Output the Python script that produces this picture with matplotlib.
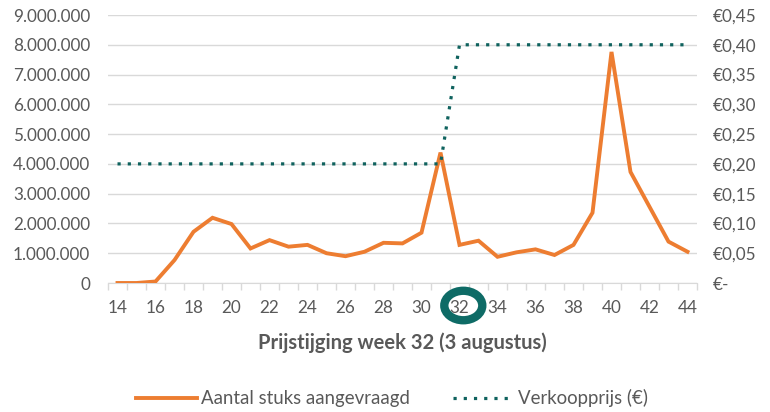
import matplotlib
matplotlib.use("Agg")
import matplotlib.pyplot as plt
from matplotlib.patches import Ellipse
from matplotlib.lines import Line2D
from matplotlib.ticker import FuncFormatter
import matplotlib.transforms as mtransforms

weeks = list(range(14, 45))
demand = [0, 0, 50000, 770000, 1720000, 2190000, 1980000, 1160000, 1440000, 1220000,
          1280000, 1000000, 900000, 1050000, 1350000, 1330000, 1690000, 4380000,
          1280000, 1420000, 880000, 1030000, 1130000, 940000, 1280000, 2360000,
          7760000, 3730000, 2560000, 1390000, 1050000]
price = [0.20] * 18 + [0.40] * 13
tick_weeks = list(range(14, 45, 2))
highlight_week = 32

ORANGE = "#ED7D31"
TEAL = "#0F625E"
GRAY = "#595959"
GRID = "#D9D9D9"

plt.rcParams['font.family'] = ['Lato', 'DejaVu Sans']

fig = plt.figure(figsize=(7.7, 4.12), dpi=100)
ax = fig.add_axes([108/770, 1-283/412, 589/770, 268/412])
ax2 = ax.twinx()

ax.plot(weeks, demand, color=ORANGE, lw=2.8, solid_joinstyle='miter', zorder=3)
ax2.plot(weeks, price, color=TEAL, lw=2.3, linestyle=(0, (1, 2.2)), zorder=4)

ax.set_xlim(13.5, 44.5)
ax.set_ylim(0, 9000000)
ax2.set_ylim(0, 0.45)
ax.set_yticks(range(0, 9000001, 1000000))
ax2.set_yticks([i * 0.05 for i in range(10)])

def fmt_left(v, pos):
    return f"{int(round(v)):,}".replace(",", ".")

def fmt_right(v, pos):
    if abs(v) < 1e-9:
        return "€-"
    return "€" + f"{v:.2f}".replace(".", ",")

ax.yaxis.set_major_formatter(FuncFormatter(fmt_left))
ax2.yaxis.set_major_formatter(FuncFormatter(fmt_right))

ax.set_xticks(tick_weeks)
ax.set_xticks([w + 0.5 for w in range(13, 45)], minor=True)
ax.tick_params(axis='x', which='major', length=0, pad=12, labelsize=12.3, labelcolor=GRAY)
ax.tick_params(axis='x', which='minor', length=5, color=GRID, width=1)
ax.tick_params(axis='y', length=0, pad=13, labelsize=12.3, labelcolor=GRAY)
ax2.tick_params(axis='y', length=0, pad=11.5, labelsize=12.3, labelcolor=GRAY)

ax.grid(axis='y', color=GRID, lw=1)
ax.set_axisbelow(True)
for a in (ax, ax2):
    for s in ('left', 'right', 'top', 'bottom'):
        a.spines[s].set_visible(False)
ax.spines['bottom'].set_visible(True)
ax.spines['bottom'].set_color(GRID)

ax.set_xlabel("Prijstijging week 32 (3 augustus)", fontsize=14.5, fontweight='bold',
              color=GRAY, labelpad=12)

trans = mtransforms.blended_transform_factory(ax.transData, ax.transAxes)
ring = Ellipse((highlight_week + 0.2, -0.084), width=2.0, height=0.11, transform=trans,
               fill=False, edgecolor="#0E6B66", lw=6, clip_on=False, zorder=5)
ax.add_patch(ring)

handles = [Line2D([], [], color=ORANGE, lw=2.8),
           Line2D([], [], color=TEAL, lw=2.3, linestyle=(0, (1, 2.2)))]
fig.legend(handles, ["Aantal stuks aangevraagd", "Verkoopprijs (€)"],
           loc='center', bbox_to_anchor=(392/770, 1-398/412), ncol=2, frameon=False,
           fontsize=13.4, labelcolor=GRAY, handlelength=3.3, handletextpad=0.2,
           columnspacing=2.3)

fig.savefig("out.png", dpi=100)
